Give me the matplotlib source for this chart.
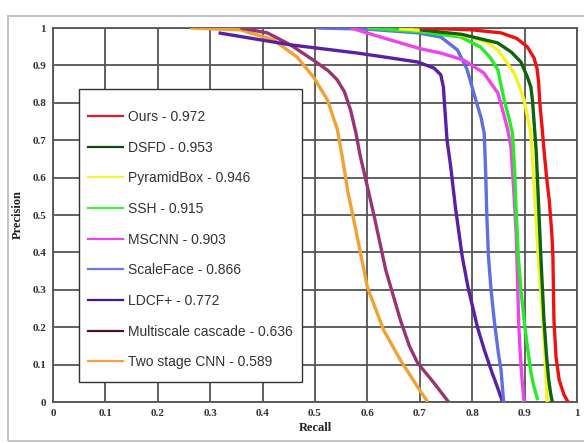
import matplotlib
matplotlib.use("Agg")
import matplotlib.pyplot as plt
from matplotlib.lines import Line2D
from matplotlib.patches import Rectangle

labels = ["Ours - 0.972", "DSFD - 0.953", "PyramidBox - 0.946", "SSH - 0.915",
          "MSCNN - 0.903", "ScaleFace - 0.866", "LDCF+ - 0.772",
          "Multiscale cascade - 0.636", "Two stage CNN - 0.589"]

ours_r = [0.70, 0.80, 0.855, 0.885, 0.905, 0.918, 0.924, 0.927, 0.929, 0.933, 0.937, 0.942, 0.947, 0.952, 0.954, 0.956, 0.960, 0.966, 0.975, 0.983]
ours_p = [1.0, 0.995, 0.987, 0.972, 0.950, 0.920, 0.890, 0.850, 0.800, 0.740, 0.674, 0.600, 0.540, 0.450, 0.390, 0.219, 0.120, 0.059, 0.020, 0.0]

dsfd_r = [0.70, 0.78, 0.81, 0.849, 0.875, 0.893, 0.905, 0.912, 0.915, 0.922, 0.926, 0.931, 0.937, 0.942, 0.946, 0.950, 0.953]
dsfd_p = [0.995, 0.983, 0.973, 0.960, 0.935, 0.909, 0.870, 0.842, 0.807, 0.674, 0.550, 0.389, 0.219, 0.120, 0.059, 0.020, 0.0]

pyr_r = [0.66, 0.74, 0.797, 0.83, 0.849, 0.865, 0.88, 0.891, 0.899, 0.906, 0.912, 0.918, 0.926, 0.935, 0.939, 0.941, 0.943]
pyr_p = [0.998, 0.99, 0.976, 0.960, 0.941, 0.910, 0.880, 0.840, 0.807, 0.760, 0.718, 0.585, 0.389, 0.219, 0.120, 0.060, 0.0]

ssh_r = [0.60, 0.70, 0.778, 0.816, 0.835, 0.849, 0.861, 0.870, 0.877, 0.881, 0.883, 0.888, 0.893, 0.899, 0.906, 0.912, 0.918, 0.925]
ssh_p = [1.0, 0.99, 0.976, 0.949, 0.920, 0.888, 0.807, 0.760, 0.718, 0.620, 0.540, 0.389, 0.300, 0.219, 0.140, 0.080, 0.040, 0.005]

mscnn_r = [0.568, 0.644, 0.70, 0.74, 0.784, 0.822, 0.849, 0.860, 0.868, 0.874, 0.880, 0.884, 0.887, 0.889, 0.891, 0.894, 0.897, 0.899]
mscnn_p = [1.0, 0.968, 0.945, 0.933, 0.914, 0.880, 0.826, 0.770, 0.727, 0.680, 0.550, 0.450, 0.300, 0.200, 0.147, 0.080, 0.030, 0.0]

scale_r = [0.505, 0.60, 0.696, 0.74, 0.772, 0.79, 0.807, 0.817, 0.823, 0.826, 0.828, 0.831, 0.836, 0.842, 0.850, 0.855, 0.860]
scale_p = [1.0, 0.997, 0.987, 0.976, 0.941, 0.890, 0.807, 0.760, 0.718, 0.600, 0.495, 0.389, 0.300, 0.219, 0.130, 0.086, 0.0]

ldcf_r = [0.316, 0.453, 0.581, 0.644, 0.696, 0.727, 0.740, 0.745, 0.748, 0.752, 0.759, 0.768, 0.781, 0.792, 0.810, 0.823, 0.836, 0.848, 0.858]
ldcf_p = [0.987, 0.955, 0.933, 0.920, 0.909, 0.893, 0.875, 0.842, 0.780, 0.700, 0.629, 0.520, 0.389, 0.307, 0.200, 0.140, 0.086, 0.040, 0.0]

msc_r = [0.358, 0.409, 0.453, 0.497, 0.525, 0.542, 0.556, 0.568, 0.578, 0.586, 0.597, 0.614, 0.635, 0.663, 0.680, 0.696, 0.727, 0.755]
msc_p = [1.0, 0.987, 0.955, 0.914, 0.886, 0.862, 0.830, 0.780, 0.720, 0.660, 0.594, 0.490, 0.353, 0.219, 0.150, 0.104, 0.051, 0.0]

two_r = [0.262, 0.358, 0.421, 0.466, 0.497, 0.524, 0.543, 0.553, 0.563, 0.574, 0.600, 0.631, 0.663, 0.696, 0.715]
two_p = [1.0, 0.995, 0.968, 0.922, 0.869, 0.807, 0.727, 0.647, 0.560, 0.487, 0.307, 0.192, 0.112, 0.040, 0.0]

series_r = [ours_r, dsfd_r, pyr_r, ssh_r, mscnn_r, scale_r, ldcf_r, msc_r, two_r]
series_p = [ours_p, dsfd_p, pyr_p, ssh_p, mscnn_p, scale_p, ldcf_p, msc_p, two_p]
colors = ["#ee1111", "#0d640d", "#f2f224", "#26ec26", "#ee44ee", "#5c70e0",
          "#5a1fa2", "#983472", "#f0a232"]
legend_colors = ["#e01a2a", "#0a4a0a", "#f2f240", "#44ee44", "#ee44ee", "#6a7ae0",
                 "#4a1098", "#4a1028", "#f5a040"]

ticks = [0, 0.1, 0.2, 0.3, 0.4, 0.5, 0.6, 0.7, 0.8, 0.9, 1]
tick_labels = ["0", "0.1", "0.2", "0.3", "0.4", "0.5", "0.6", "0.7", "0.8", "0.9", "1"]

fig = plt.figure(figsize=(5.84, 4.43), dpi=100)
fig.patches.append(Rectangle((8 / 584, 1 - 441 / 443), 1.0, (441 - 16) / 443,
                             transform=fig.transFigure, fill=False,
                             edgecolor="#c4c4c4", lw=1.5, zorder=0))
ax = fig.add_axes([53 / 584, 1 - 402 / 443, 524 / 584, 374 / 443])

for r, p, c in list(zip(series_r, series_p, colors))[::-1]:
    ax.plot(r, p, color=c, lw=2.4, solid_joinstyle="round", solid_capstyle="butt", zorder=3)

ax.set_xlim(0, 1)
ax.set_ylim(0, 1)
ax.set_xticks(ticks)
ax.set_yticks(ticks)
tf = dict(family="Liberation Serif", weight="bold", size=8, color="#333333")
ax.set_xticklabels(tick_labels, **tf)
ax.set_yticklabels(tick_labels, **tf)
ax.tick_params(length=0, pad=5)
ax.grid(True, color="#555555", lw=1.3, zorder=1)
ax.set_axisbelow(True)
for s in ax.spines.values():
    s.set_color("#555555")
    s.set_linewidth(1.3)

lf = dict(family="Liberation Serif", weight="bold", size=9, color="#222222")
ax.set_xlabel("Recall", labelpad=3, **lf)
ax.set_ylabel("Precision", labelpad=6, **lf)

# legend box
box = Rectangle(((79 - 53) / 524, (402 - 382) / 374), (302 - 79) / 524, (382 - 89) / 374,
                transform=ax.transAxes, facecolor="white", edgecolor="#333333",
                lw=1.0, zorder=4)
ax.add_patch(box)

handles = [Line2D([0], [0], color=c, lw=1.6) for c in legend_colors]
leg = ax.legend(handles, labels, loc="upper left",
                bbox_to_anchor=((88 - 53) / 524, (402 - 110) / 374),
                frameon=False, prop=dict(family="Liberation Sans", size=10),
                labelcolor="#333333",
                handlelength=2.55, handletextpad=0.3, labelspacing=1.2,
                borderpad=0, borderaxespad=0)
leg.set_zorder(5)

fig.savefig("out.png", dpi=100)
